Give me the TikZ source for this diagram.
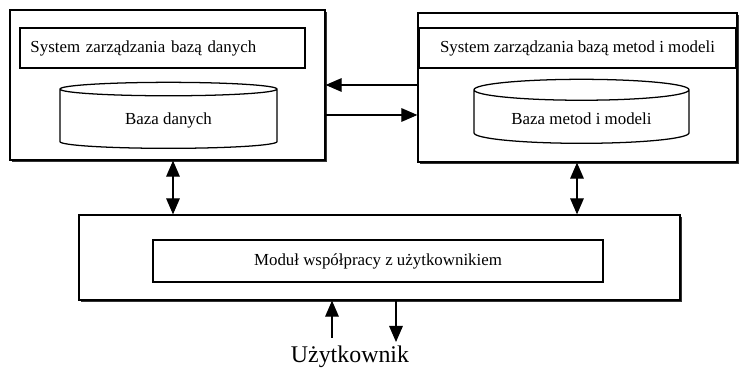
\documentclass[tikz,border=0pt]{standalone}
\usepackage{fontspec}
\setmainfont{Liberation Serif}
\usetikzlibrary{shapes.geometric,arrows.meta,shadows}
\begin{document}
\begin{tikzpicture}[every node/.style={font=\fontsize{12}{14}\selectfont},
  frame/.style={draw,line width=0.9pt,fill=white,inner sep=0pt,drop shadow={shadow xshift=1.2pt,shadow yshift=-1.2pt,fill=black,opacity=0.8}},
  panel/.style={draw,line width=0.9pt,fill=white,align=center,drop shadow={shadow xshift=1pt,shadow yshift=-1pt,fill=black,opacity=0.8}},
  db/.style={draw,line width=0.9pt,fill=white,cylinder,shape border rotate=90,aspect=0.14},
  link/.style={line width=0.8pt,-{Triangle[length=0.4cm,width=0.34cm]}},
  twoway/.style={line width=0.8pt,{Triangle[length=0.4cm,width=0.34cm]}-{Triangle[length=0.4cm,width=0.34cm]}}]
\useasboundingbox (0,0) rectangle (18.475,9.25);
\node[frame,minimum width=7.875cm,minimum height=3.75cm] (dbsys) at (4.1875,7.125) {};
\node[panel,minimum width=7.125cm,minimum height=1.0cm,text width=6.6cm,align=left] (dbms) at (4.0625,8.05) {System zarządzania bazą danych};
\node[db,minimum width=5.425cm,minimum height=1.65cm] (dbase) at (4.2125,6.25) {Baza danych};
\node[frame,minimum width=7.975cm,minimum height=3.725cm] (mbsys) at (14.4375,7.0625) {};
\node[panel,minimum width=7.925cm,minimum height=1.0cm] (mbms) at (14.4375,8.05) {System zarządzania bazą metod i modeli};
\node[db,minimum width=5.375cm,minimum height=1.6cm] (mbase) at (14.5375,6.29) {Baza metod i modeli};
\node[frame,minimum width=15.025cm,minimum height=2.125cm] (ui) at (9.4875,2.8125) {};
\node[panel,minimum width=11.25cm,minimum height=1.05cm] (uimod) at (9.45,2.725) {Moduł współpracy z użytkownikiem};
\node[font=\fontsize{17}{19}\selectfont] (user) at (8.75,0.33) {Użytkownik};
\draw[link] (mbsys.west |- dbsys.east) -- (dbsys.east);
\draw[link] ([yshift=-0.75cm]dbsys.east) -- ([yshift=-0.75cm]mbsys.west |- dbsys.east);
\draw[twoway] ([xshift=0.1375cm]dbsys.south) -- ([xshift=0.1375cm]dbsys.south |- ui.north);
\draw[twoway] ([xshift=-0.0125cm]mbsys.south) -- ([xshift=-0.0125cm]mbsys.south |- ui.north);
\draw[link] (8.3,0.8) coordinate (uin) -- (uin |- ui.south);
\draw[link] (9.9,0.8 |- ui.south) coordinate (uout) -- (9.9,0.7);
\end{tikzpicture}
\end{document}
